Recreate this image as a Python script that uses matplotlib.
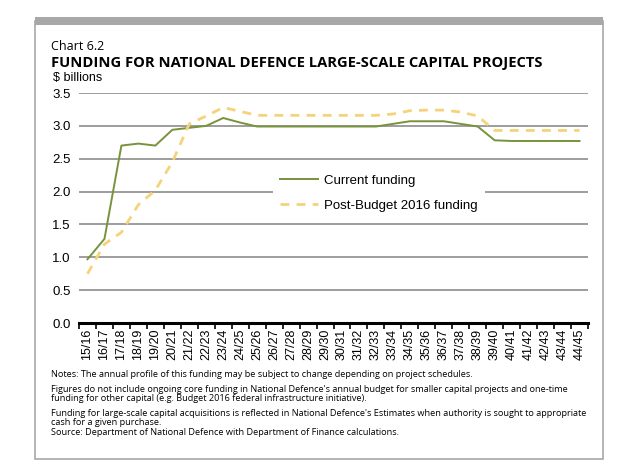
import matplotlib
matplotlib.use('Agg')
import matplotlib.pyplot as plt
from matplotlib.patches import Rectangle


# Data ($ billions)
years = ['15/16', '16/17', '17/18', '18/19', '19/20', '20/21', '21/22', '22/23',
         '23/24', '24/25', '25/26', '26/27', '27/28', '28/29', '29/30', '30/31',
         '31/32', '32/33', '33/34', '34/35', '35/36', '36/37', '37/38', '38/39',
         '39/40', '40/41', '41/42', '42/43', '43/44', '44/45']
current = [0.97, 1.28, 2.70, 2.73, 2.70, 2.94, 2.97, 3.00,
           3.12, 3.05, 2.99, 2.99, 2.99, 2.99, 2.99, 2.99,
           2.99, 2.99, 3.03, 3.07, 3.07, 3.07, 3.03, 2.99,
           2.78, 2.77, 2.77, 2.77, 2.77, 2.77]
post_budget = [0.75, 1.20, 1.38, 1.80, 2.02, 2.45, 3.03, 3.15,
               3.28, 3.22, 3.16, 3.16, 3.16, 3.16, 3.16, 3.16,
               3.16, 3.16, 3.18, 3.23, 3.24, 3.24, 3.21, 3.15,
               2.93, 2.93, 2.93, 2.93, 2.93, 2.93]
y_ticks = [0.0, 0.5, 1.0, 1.5, 2.0, 2.5, 3.0, 3.5]

notes = [
    'Notes: The annual profile of this funding may be subject to change depending on project schedules.',
    "Figures do not include ongoing core funding in National Defence's annual budget for smaller capital projects and one-time\n"
    'funding for other capital (e.g. Budget 2016 federal infrastructure initiative).',
    "Funding for large-scale capital acquisitions is reflected in National Defence's Estimates when authority is sought to appropriate\n"
    'cash for a given purchase.',
    'Source: Department of National Defence with Department of Finance calculations.',
]

GREEN = '#77933c'
YELLOW = '#f5d37a'
GRID = '#8c8c8c'
W, H = 640, 476


def fx(px):
    return px / W


def fy(py):
    return 1 - py / H


fig = plt.figure(figsize=(6.4, 4.76), dpi=100)
fig.patch.set_facecolor('white')

# frame around the chart
fig.patches.append(Rectangle((fx(35), fy(459)), fx(603) - fx(35), fy(21) - fy(459),
                             transform=fig.transFigure, fill=False,
                             edgecolor='#a8a8a8', linewidth=1.2))
fig.patches.append(Rectangle((fx(35), fy(25)), fx(603) - fx(35), fy(17) - fy(25),
                             transform=fig.transFigure, facecolor='#a8a8a8',
                             edgecolor='none'))

ax = fig.add_axes([fx(79), fy(323), fx(588) - fx(79), fy(93) - fy(323)])
x = list(range(len(years)))

ax.plot(x, current, color=GREEN, linewidth=1.4, label='Current funding', zorder=3)
ax.plot(x, post_budget, color=YELLOW, linewidth=2.0, dashes=(3.2, 2.6),
        label='Post-Budget 2016 funding', zorder=3)

ax.set_xlim(-0.5, len(years) - 0.5)
ax.set_ylim(0, 3.5)
ax.set_yticks(y_ticks)
ax.set_yticklabels([f'{v:.1f}' for v in y_ticks], fontsize=9.5,
                   family='Liberation Sans')
for v in y_ticks[1:]:
    ax.axhline(v, color=GRID, linewidth=1.2, zorder=1)

ax.set_xticks(x)
ax.set_xticklabels(years, rotation=90, fontsize=9, family='Liberation Sans')
ax.set_xticks([i - 0.5 for i in range(len(years) + 1)], minor=True)
ax.tick_params(axis='x', which='major', length=0, pad=4)
ax.tick_params(axis='x', which='minor', length=4, width=1.2, color='black',
               direction='out')
ax.tick_params(axis='y', length=0, pad=6)

for s in ['top', 'right', 'left']:
    ax.spines[s].set_visible(False)
ax.spines['bottom'].set_linewidth(2.2)
ax.spines['bottom'].set_zorder(4)

leg = ax.legend(loc='upper left', bbox_to_anchor=(fx(273), fy(168)),
                bbox_transform=fig.transFigure, frameon=True, fancybox=False,
                prop={'family': 'Liberation Sans', 'size': 9.5},
                handlelength=2.9, handletextpad=0.5, labelspacing=0.95,
                borderpad=0.5, borderaxespad=0)
leg.get_frame().set_facecolor('white')
leg.get_frame().set_edgecolor('none')
leg.get_frame().set_alpha(1)
leg.set_zorder(5)

fig.text(fx(51), fy(47), 'Chart 6.2', fontsize=9, family='Open Sans',
         va='center', ha='left')
fig.text(fx(51), fy(63), 'FUNDING FOR NATIONAL DEFENCE LARGE-SCALE CAPITAL PROJECTS',
         fontsize=10.6, family='Open Sans', weight='bold', va='center', ha='left')
fig.text(fx(53), fy(78), '$ billions', fontsize=9, family='Liberation Sans',
         va='center', ha='left')

note_y = [375, 390, 414, 433]
for ny, t in zip(note_y, notes):
    fig.text(fx(51), fy(ny - 5), t, fontsize=6.6, family='Open Sans',
             va='top', ha='left', linespacing=1.0)

fig.savefig('out.png', dpi=100)
